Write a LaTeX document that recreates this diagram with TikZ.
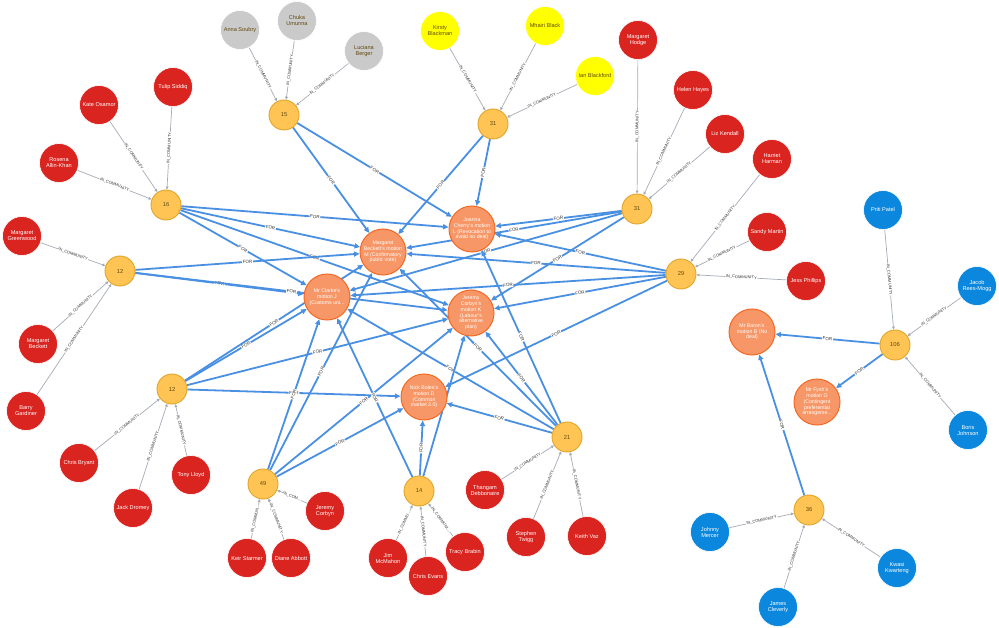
\documentclass[tikz,border=0pt]{standalone}
\usepackage{fontspec}
\setmainfont{Liberation Sans}
\usetikzlibrary{arrows.meta}
\definecolor{commfill}{HTML}{FFC454}
\definecolor{commdraw}{HTML}{E0A52A}
\definecolor{commtext}{HTML}{604A0E}
\definecolor{motfill}{HTML}{F79767}
\definecolor{motdraw}{HTML}{F36924}
\definecolor{labred}{HTML}{DA2420}
\definecolor{tiggrey}{HTML}{CACACA}
\definecolor{snpyellow}{HTML}{FFFF00}
\definecolor{conblue}{HTML}{0B88DD}
\definecolor{foredgec}{HTML}{4A90E2}
\definecolor{inedgec}{HTML}{A5ABB6}
\definecolor{labtext}{HTML}{333333}
\pgfdeclarelayer{bgl}
\pgfdeclarelayer{edgel}
\pgfsetlayers{bgl,edgel,main}
\tikzset{
 comm/.style={circle, fill=commfill, draw=commdraw, line width=0.9pt, minimum size=30pt, inner sep=0pt, text=commtext, font=\fontsize{5.8}{6}\selectfont},
 motion/.style={circle, fill=motfill, draw=motdraw, line width=1pt, minimum size=46pt, inner sep=0pt, align=center, text=white, font=\fontsize{5.2}{5.7}\selectfont},
 person/.style={circle, minimum size=39pt, inner sep=0pt, align=center, font=\fontsize{5.6}{6}\selectfont, draw=white, line width=0.6pt},
 lab/.style={person, fill=labred, text=white},
 tig/.style={person, fill=tiggrey, text=commtext},
 snp/.style={person, fill=snpyellow, text=commtext},
 con/.style={person, fill=conblue, text=white},
 foredge/.style={draw=foredgec, line width=1.8pt, -{Triangle[length=5.5pt,width=5pt]}},
 inedge/.style={draw=inedgec, line width=0.7pt, -{Triangle[length=3pt,width=2.8pt]}},
 forlab/.style={midway, sloped, fill=white, inner sep=0.6pt, text=labtext, font=\fontsize{4.5}{4.7}\selectfont},
 inlab/.style={midway, sloped, fill=white, inner sep=0.5pt, text=labtext, font=\fontsize{4}{4.2}\selectfont},
}
\begin{document}
\begin{tikzpicture}[x=1pt,y=-1pt]
\begin{pgfonlayer}{bgl}
\fill[white] (0,0) rectangle (999,628);
\end{pgfonlayer}
\useasboundingbox (0,0) rectangle (999,628);
% community nodes
\node[comm] (c15) at (284,115) {15};
\node[comm] (c31a) at (493,124) {31};
\node[comm] (c16) at (166,205) {16};
\node[comm] (c31b) at (637,209) {31};
\node[comm] (c12a) at (120,271) {12};
\node[comm] (c29) at (681,274) {29};
\node[comm] (c106) at (895,345) {106};
\node[comm] (c12b) at (172,389) {12};
\node[comm] (c21) at (567,437) {21};
\node[comm] (c49) at (263,484) {49};
\node[comm] (c14) at (419,491) {14};
\node[comm] (c36) at (809,510) {36};
% motions
\node[motion] (M) at (383,252) {Margaret\\Beckett's motion\\M (Confirmatory\\public vote)};
\node[motion] (L) at (472,229) {Joanna\\Cherry's motion\\L (Revocation to\\avoid no deal)};
\node[motion] (J) at (327,297) {Mr Clarke's\\motion J\\(Customs uni...};
\node[motion] (K) at (471,313) {Jeremy\\Corbyn's\\motion K\\(Labour's\\alternative\\plan)};
\node[motion] (D) at (424,397) {Nick Boles's\\motion D\\(Common\\market 2.0)};
\node[motion] (B) at (752,332) {Mr Baron's\\motion B (No\\deal)};
\node[motion] (O) at (817,402) {Mr Fysh's\\motion O\\(Contingent\\preferential\\arrangeme...};
% people
\node[tig] (soubry) at (240,30) {Anna Soubry};
\node[tig] (umunna) at (297,21) {Chuka\\Umunna};
\node[tig] (berger) at (364,51) {Luciana\\Berger};
\node[snp] (blackman) at (440,31) {Kirsty\\Blackman};
\node[snp] (mblack) at (545,26) {Mhairi Black};
\node[snp] (blackford) at (595,76) {Ian Blackford};
\node[lab] (hodge) at (638,40) {Margaret\\Hodge};
\node[lab] (hayes) at (693,90) {Helen Hayes};
\node[lab] (kendall) at (725,134) {Liz Kendall};
\node[lab] (harman) at (772,159) {Harriet\\Harman};
\node[lab] (martin) at (767,232) {Sandy Martin};
\node[lab] (phillips) at (806,281) {Jess Phillips};
\node[lab] (siddiq) at (173,87) {Tulip Siddiq};
\node[lab] (osamor) at (99,105) {Kate Osamor};
\node[lab] (allin) at (59,163) {Rosena\\Allin-Khan};
\node[lab] (greenwood) at (22,236) {Margaret\\Greenwood};
\node[lab] (mbeckett) at (38,344) {Margaret\\Beckett};
\node[lab] (gardiner) at (26,411) {Barry\\Gardiner};
\node[lab] (bryant) at (79,463) {Chris Bryant};
\node[lab] (dromey) at (133,508) {Jack Dromey};
\node[lab] (lloyd) at (191,475) {Tony Lloyd};
\node[lab] (starmer) at (247,558) {Keir Starmer};
\node[lab] (abbott) at (291,558) {Diane Abbott};
\node[lab] (corbyn) at (325,511) {Jeremy\\Corbyn};
\node[lab] (mcmahon) at (388,558) {Jim\\McMahon};
\node[lab] (evans) at (428,576) {Chris Evans};
\node[lab] (brabin) at (465,552) {Tracy Brabin};
\node[lab] (debbonaire) at (485,490) {Thangam\\Debbonaire};
\node[lab] (twigg) at (526,537) {Stephen\\Twigg};
\node[lab] (vaz) at (587,536) {Keith Vaz};
\node[con] (patel) at (883,210) {Priti Patel};
\node[con] (reesmogg) at (977,286) {Jacob\\Rees-Mogg};
\node[con] (johnson) at (968,430) {Boris\\Johnson};
\node[con] (mercer) at (710,532) {Johnny\\Mercer};
\node[con] (cleverly) at (778,607) {James\\Cleverly};
\node[con] (kwarteng) at (897,568) {Kwasi\\Kwarteng};
\begin{pgfonlayer}{edgel}
% IN_COMMUNITY edges
\draw[inedge] (soubry) -- node[inlab]{IN\_COMMUNITY} (c15);
\draw[inedge] (umunna) -- node[inlab]{IN\_COMMUNITY} (c15);
\draw[inedge] (berger) -- node[inlab]{IN\_COMMUNITY} (c15);
\draw[inedge] (blackman) -- node[inlab]{IN\_COMMUNITY} (c31a);
\draw[inedge] (mblack) -- node[inlab]{IN\_COMMUNITY} (c31a);
\draw[inedge] (blackford) -- node[inlab]{IN\_COMMUNITY} (c31a);
\draw[inedge] (hodge) -- node[inlab]{IN\_COMMUNITY} (c31b);
\draw[inedge] (hayes) -- node[inlab]{IN\_COMMUNITY} (c31b);
\draw[inedge] (kendall) -- node[inlab]{IN\_COMMUNITY} (c31b);
\draw[inedge] (harman) -- node[inlab]{IN\_COMMUNITY} (c29);
\draw[inedge] (martin) -- node[inlab]{IN\_COMMUNITY} (c29);
\draw[inedge] (phillips) -- node[inlab]{IN\_COMMUNITY} (c29);
\draw[inedge] (siddiq) -- node[inlab]{IN\_COMMUNITY} (c16);
\draw[inedge] (osamor) -- node[inlab]{IN\_COMMUNITY} (c16);
\draw[inedge] (allin) -- node[inlab]{IN\_COMMUNITY} (c16);
\draw[inedge] (greenwood) -- node[inlab]{IN\_COMMUNITY} (c12a);
\draw[inedge] (mbeckett) -- node[inlab]{IN\_COMMUNITY} (c12a);
\draw[inedge] (gardiner) -- node[inlab]{IN\_COMMUNITY} (c12a);
\draw[inedge] (bryant) -- node[inlab]{IN\_COMMUNITY} (c12b);
\draw[inedge] (dromey) -- node[inlab]{IN\_COMMUNITY} (c12b);
\draw[inedge] (lloyd) -- node[inlab]{IN\_COMMUNITY} (c12b);
\draw[inedge] (starmer) -- node[inlab]{IN\_COMMUN...} (c49);
\draw[inedge] (abbott) -- node[inlab]{IN\_COMMUNITY} (c49);
\draw[inedge] (corbyn) -- node[inlab]{IN\_COM...} (c49);
\draw[inedge] (mcmahon) -- node[inlab]{IN\_COMMU...} (c14);
\draw[inedge] (evans) -- node[inlab]{IN\_COMMUNITY} (c14);
\draw[inedge] (brabin) -- node[inlab]{IN\_COMMUNI...} (c14);
\draw[inedge] (debbonaire) -- node[inlab]{IN\_COMMUNITY} (c21);
\draw[inedge] (twigg) -- node[inlab]{IN\_COMMUNITY} (c21);
\draw[inedge] (vaz) -- node[inlab]{IN\_COMMUNITY} (c21);
\draw[inedge] (patel) -- node[inlab]{IN\_COMMUNITY} (c106);
\draw[inedge] (reesmogg) -- node[inlab]{IN\_COMMUNITY} (c106);
\draw[inedge] (johnson) -- node[inlab]{IN\_COMMUNITY} (c106);
\draw[inedge] (mercer) -- node[inlab]{IN\_COMMUNITY} (c36);
\draw[inedge] (cleverly) -- node[inlab]{IN\_COMMUNITY} (c36);
\draw[inedge] (kwarteng) -- node[inlab]{IN\_COMMUNITY} (c36);
% FOR edges
\foreach \a/\b in {c15/M, c15/L, c31a/L, c31a/M,
  c16/L, c16/M, c16/K, c16/J,
  c12a/M, c12a/J, c12a/K,
  c12b/M, c12b/J, c12b/K, c12b/D,
  c31b/L, c31b/M, c31b/J, c31b/K,
  c29/L, c29/M, c29/J, c29/K, c29/D,
  c21/L, c21/M, c21/J, c21/K, c21/D,
  c49/J, c49/M, c49/K, c49/D,
  c14/D, c14/J, c14/K,
  c106/B, c106/O, c36/B}
  \draw[foredge] (\a) -- node[forlab]{FOR} (\b);
\end{pgfonlayer}
\end{tikzpicture}
\end{document}
